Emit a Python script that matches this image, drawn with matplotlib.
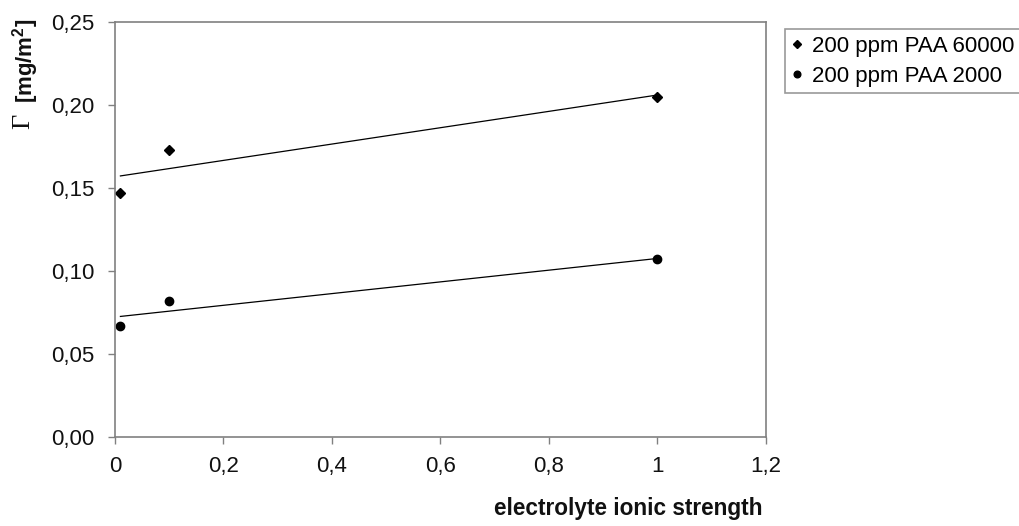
import numpy as np
import matplotlib
matplotlib.use("Agg")
import matplotlib.pyplot as plt

plt.rcParams['font.family'] = ['Liberation Sans', 'DejaVu Sans']
plt.rcParams['mathtext.fontset'] = 'custom'
plt.rcParams['mathtext.bf'] = 'Liberation Sans:bold'
plt.rcParams['mathtext.rm'] = 'Liberation Sans'

# data
ionic_strength = [0.01, 0.1, 1.0]
paa_60000 = [0.147, 0.173, 0.205]
paa_2000 = [0.067, 0.082, 0.107]
series_labels = ["200 ppm PAA 60000", "200 ppm PAA 2000"]
xticks = [0, 0.2, 0.4, 0.6, 0.8, 1.0, 1.2]
xtick_labels = ["0", "0,2", "0,4", "0,6", "0,8", "1", "1,2"]
yticks = [0.0, 0.05, 0.10, 0.15, 0.20, 0.25]
ytick_labels = ["0,00", "0,05", "0,10", "0,15", "0,20", "0,25"]

W, H = 1020, 526
fig = plt.figure(figsize=(W / 100, H / 100), dpi=100)
ax = fig.add_axes([115 / W, 1 - 437 / H, 651 / W, 415 / H])

gray = '#808080'
x = np.array(ionic_strength)
h1, = ax.plot(x, paa_60000, linestyle='none', marker='D', markersize=5.5,
              color='black', label=series_labels[0])
h2, = ax.plot(x, paa_2000, linestyle='none', marker='o', markersize=6,
              color='black', label=series_labels[1])

# linear trendlines
for ys in (paa_60000, paa_2000):
    k, b = np.polyfit(x, ys, 1)
    xx = np.array([x.min(), x.max()])
    ax.plot(xx, k * xx + b, color='black', linewidth=0.9)

ax.set_xlim(0, 1.2)
ax.set_ylim(0, 0.25)
ax.set_xticks(xticks)
ax.set_xticklabels(xtick_labels)
ax.set_yticks(yticks)
ax.set_yticklabels(ytick_labels)
ax.tick_params(axis='both', direction='out', length=5, width=1, color=gray,
               labelsize=16, labelcolor='#111111')
ax.tick_params(axis='x', pad=9)
ax.tick_params(axis='y', pad=10)
for s in ax.spines.values():
    s.set_color(gray)
    s.set_linewidth(1.2)

# axis labels
fig.text(628 / W, 1 - 509 / H, "electrolyte ionic strength", ha='center',
         va='center', fontsize=16.3, fontweight='bold', color='#111111')
fig.text(23 / W, 1 - 121 / H, "Γ", rotation=90, ha='center', va='center',
         fontsize=19, family=['Liberation Serif', 'DejaVu Serif'], color='#111111')
fig.text(26 / W, 1 - 19 / H, r"[mg/m$^\mathbf{2}$]", rotation=90, ha='center',
         va='top', fontsize=16, fontweight='bold', color='#111111')

leg = fig.legend(handles=[h1, h2], loc='upper left',
                 bbox_to_anchor=(785 / W, 1 - 29 / H), fontsize=16,
                 frameon=True, fancybox=False, handlelength=0.5,
                 handletextpad=0.4, borderpad=0.3, labelspacing=0.4,
                 borderaxespad=0, markerscale=0.8)
leg.get_frame().set_edgecolor(gray)
leg.get_frame().set_linewidth(1.2)

fig.savefig("out.png", dpi=100)
